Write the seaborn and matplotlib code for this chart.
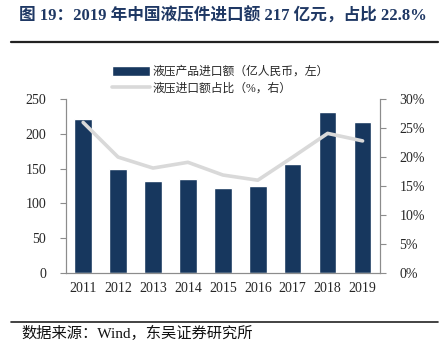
import numpy as np
import pandas as pd
import matplotlib
matplotlib.use("Agg")
import matplotlib.pyplot as plt
import matplotlib.ticker as mticker
import seaborn as sns

years = ["2011", "2012", "2013", "2014", "2015", "2016", "2017", "2018", "2019"]
import_value = [221, 150, 132, 135, 122, 125, 157, 232, 217]
import_share = [0.26, 0.20, 0.181, 0.191, 0.169, 0.160, 0.200, 0.241, 0.228]

bar_label = "液压产品进口额（亿人民币，左）"
line_label = "液压进口额占比（%，右）"
title = "图 19：2019 年中国液压件进口额 217 亿元，占比 22.8%"
source = "数据来源：Wind，东吴证券研究所"

sns.set_style("white")
plt.rcParams["font.family"] = ["Liberation Serif", "Noto Sans CJK SC", "DejaVu Sans"]

df = pd.DataFrame({"year": years, "value": import_value, "share": import_share})
df["pos"] = np.arange(len(df))

bar_color = "#17375e"
line_color = "#d9d9d9"
spine_color = "#8c8c8c"

fig = plt.figure(figsize=(4.45, 3.5), dpi=100)
ax = fig.add_axes([0.1476, 0.2209, 0.7064, 0.4954])

sns.barplot(data=df, x="year", y="value", color=bar_color, width=0.5,
            saturation=1, ax=ax, label=bar_label)
if ax.get_legend() is not None:
    ax.get_legend().remove()
ax2 = ax.twinx()
sns.lineplot(data=df, x="pos", y="share", color=line_color, linewidth=2.6,
             ax=ax2, label=line_label, legend=False)

ax.set_xlim(-0.5, 8.5)
ax.set_ylim(0, 250)
ax.set_yticks(np.arange(0, 251, 50))
ax2.set_ylim(0, 0.30)
ax2.set_yticks(np.arange(0, 0.301, 0.05))
ax2.yaxis.set_major_formatter(mticker.PercentFormatter(1.0, decimals=0))

ax.set_xlabel("")
ax.set_ylabel("")
ax2.set_xlabel("")
ax2.set_ylabel("")

for a in (ax, ax2):
    for s in ("left", "right", "bottom"):
        a.spines[s].set_color(spine_color)
        a.spines[s].set_linewidth(0.8)
    a.spines["top"].set_visible(False)

ax.tick_params(axis="y", which="major", direction="out", length=4, color=spine_color,
               labelsize=10, pad=10)
ax2.tick_params(axis="y", which="major", direction="out", length=4, color=spine_color,
                labelsize=10, pad=10)
ax.tick_params(axis="x", which="major", length=0, labelsize=10, pad=7)
ax.set_xticks(np.arange(-0.5, 8.6, 1), minor=True)
ax.tick_params(axis="x", which="minor", direction="in", length=3, color=spine_color)

h1, l1 = ax.get_legend_handles_labels()
h2, l2 = ax2.get_legend_handles_labels()
fig.legend(h1 + h2, l1 + l2, loc="upper left", bbox_to_anchor=(0.252, 0.812),
           frameon=False, fontsize=8.5, handlelength=3.2, handleheight=0.9,
           handletextpad=0.2, labelspacing=0.4, borderaxespad=0, borderpad=0)

fig.text(0.5, 0.954, title, ha="center", va="center", fontsize=12,
         fontweight="bold", color="#1f3864")
fig.add_artist(plt.Line2D([0.025, 0.984], [0.88, 0.88], color="#222222", linewidth=1.6))
fig.add_artist(plt.Line2D([0.025, 0.984], [0.08, 0.08], color="#222222", linewidth=1.2))
fig.text(0.048, 0.048, source, ha="left", va="center", fontsize=11, color="#111111")

fig.savefig("out.png", dpi=100)
